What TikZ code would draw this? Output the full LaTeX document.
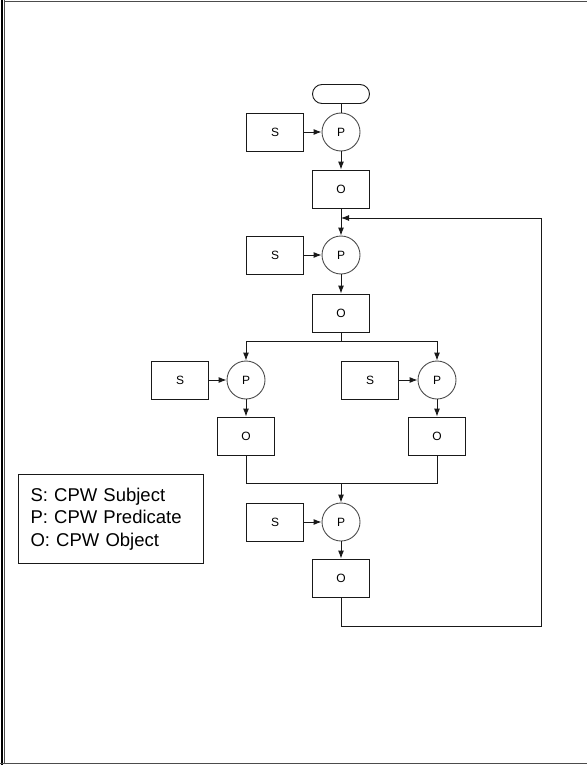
\documentclass[tikz,border=0pt]{standalone}
\usepackage{fontspec}
\setmainfont{Liberation Sans}
\usetikzlibrary{arrows.meta}
\begin{document}
\begin{tikzpicture}[x=1pt, y=-1pt, line width=0.9pt, draw=black!90,
    box/.style={draw, minimum width=57pt, minimum height=38pt, inner sep=0pt,
        font=\fontsize{12}{13}\selectfont},
    pred/.style={draw=black!70, circle, minimum size=38pt, inner sep=0pt,
        font=\fontsize{12}{13}\selectfont},
    term/.style={draw, rounded corners=9.5pt, minimum width=57pt, minimum height=19pt},
    flow/.style={-{Latex[length=8pt, width=6pt]}}]
    \useasboundingbox (0,0) rectangle (587,765);
    % Cadre
    \draw[line width=2.2pt, black] (2,0) -- (2,765);
    \draw[black!70] (4.5,0) -- (4.5,763);
    \draw[black!70] (4,1) -- (587,1);
    \draw[black!70] (0,763) -- (587,763);
    % Noeuds
    \node[term] (start) at (341,94) {};
    \node[box]  (s1) at (275,132) {S};
    \node[pred] (p1) at (341,132) {P};
    \node[box]  (o1) at (341,189) {O};
    \node[box]  (s2) at (275,255) {S};
    \node[pred] (p2) at (341,255) {P};
    \node[box]  (o2) at (341,313) {O};
    \node[box]  (s3) at (180,380) {S};
    \node[pred] (p3) at (246,380) {P};
    \node[box]  (o3) at (246,436) {O};
    \node[box]  (s4) at (370,380) {S};
    \node[pred] (p4) at (437,380) {P};
    \node[box]  (o4) at (437,436) {O};
    \node[box]  (s5) at (275,522) {S};
    \node[pred] (p5) at (341,522) {P};
    \node[box]  (o5) at (341,578) {O};
    % Legende
    \node[draw, text width=161pt, inner xsep=12pt, minimum height=89pt, align=left,
        font=\fontsize{18.5}{22.5}\selectfont] (legend) at (111,519)
        {\raisebox{2pt}{S: CPW Subject}\\\raisebox{2pt}{P: CPW Predicate}\\\raisebox{2pt}{O: CPW Object}};
    % Points de jonction
    \coordinate (split) at (341,341);
    \coordinate (merge) at (341,483);
    \coordinate (loopR) at (541,626);
    \coordinate (loopIn) at (341,218);
    % Connexions
    \draw (start) -- (p1);
    \foreach \i in {1,...,5} {
        \draw[flow] (s\i) -- (p\i);
        \draw[flow] (p\i) -- (o\i);
    }
    \draw[flow] (o1) -- (p2);
    \draw (o2) -- (split);
    \draw[flow] (split) -| (p3);
    \draw[flow] (split) -| (p4);
    \draw (o3.south) |- (merge);
    \draw (o4.south) |- (merge);
    \draw[flow] (merge) -- (p5);
    % Retour
    \draw[flow] (o5.south) |- (loopR) |- (loopIn);
\end{tikzpicture}
\end{document}
